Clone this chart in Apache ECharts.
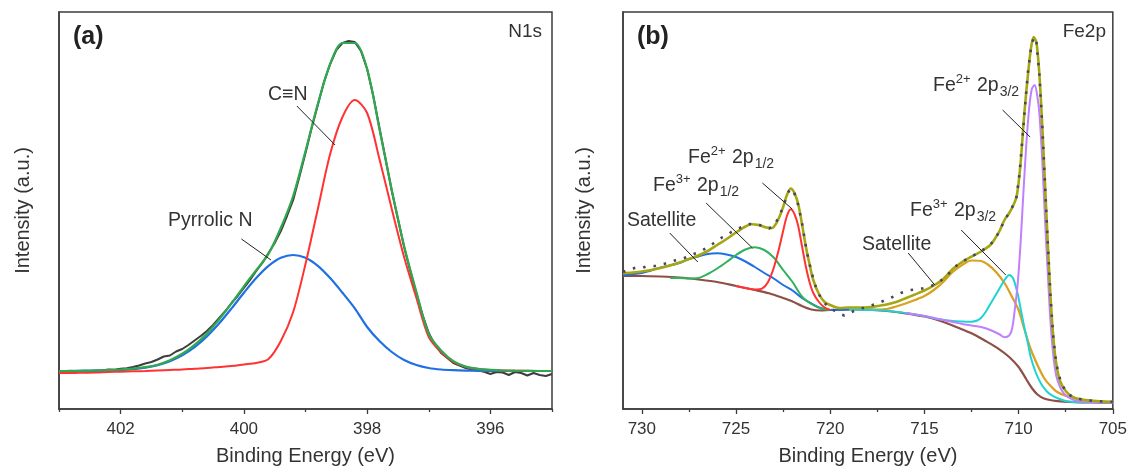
<!DOCTYPE html>
<html>
<head>
<meta charset="utf-8">
<script src="https://cdn.jsdelivr.net/npm/echarts@6/dist/echarts.min.js"></script>
<style>
html,body{margin:0;padding:0;background:#fff;}
#main{width:1130px;height:471px;}
</style>
</head>
<body>
<div id="main"></div>
<script>
// ---- N1s panel (a): binding energy grid for the fitted curves ----
const nX = [403.0,402.8,402.6,402.4,402.2,402.0,401.8,401.6,401.4,401.2,401.0,400.8,400.6,400.4,400.2,400.0,399.8,399.6,399.4,399.2,399.0,398.8,398.6,398.4,398.2,398.0,397.8,397.6,397.4,397.2,397.0,396.8,396.6,396.4,396.2,396.0,395.8,395.6,395.4,395.2,395.0];
const nCN = [36,36,36.3,36.5,37,37.3,37.7,38,38.5,39,39.5,40.3,41,42,43,44.5,46,50,68,97,145,200,255,292,309,296,250,200,152,111,72,57,47,42,40,39,38.5,38.3,38.2,38,38];
const nPyr = [38,38,38.1,38.2,38.5,38.9,39.8,41.3,43.8,47.8,53.7,61.9,72.6,85.7,100.6,116.2,130.9,143.1,151.2,154,151.2,143.1,130.9,116.2,100.6,82,68,57,49,44,41,39.5,38.8,38.4,38.2,38.1,38,38,38,38,38];
const nFit = [38,38,38.2,38.5,39,39.5,40.3,41.8,44.3,48.8,55.2,64.2,75.6,89.7,105.6,122.7,138.9,155.1,181.2,213,258,305,345,366,366,340,280,219,163,117,75,58.5,47.8,42.4,40.2,39.1,38.5,38.3,38.2,38,38];
// raw spectrum
const nRawX = [403.0,402.9,402.8,402.7,402.6,402.5,402.4,402.3,402.2,402.1,402.0,401.9,401.8,401.7,401.6,401.5,401.4,401.3,401.2,401.1,401.0,400.9,400.8,400.7,400.6,400.5,400.4,400.3,400.2,400.1,400.0,399.9,399.8,399.7,399.6,399.5,399.4,399.3,399.2,399.1,399.0,398.9,398.8,398.7,398.6,398.5,398.4,398.3,398.2,398.1,398.0,397.9,397.8,397.7,397.6,397.5,397.4,397.3,397.2,397.1,397.0,396.9,396.8,396.7,396.6,396.5,396.4,396.3,396.2,396.1,396.0,395.9,395.8,395.7,395.6,395.5,395.4,395.3,395.2,395.1,395.0];
const nRaw = [38,38,38.2,37.8,38.3,38.1,38.6,38.4,39.4,39.2,40.2,40.8,42,43.5,45.5,47,49.5,52.5,53.5,57.5,60,64,68.5,73,78,84,91,98,106,113,121,129,138,146,156,166,178,193,209,232,256,281,304,327,345,359,366,368,367,358,340,313,281,250,218,190,162,138,115,94,76,64,56,51,46,43.5,41,39.5,38.5,37.2,35,37,36.5,34,37,36,33.5,36,34,33,35];

// ---- Fe2p panel (b): [binding energy, intensity] ----
const feBg = [[731,133],[730,133],[729,132.5],[728,131.5],[727,129.5],[726,127],[725,123],[724,119],[723.25,115.7],[722.5,111],[722,107.5],[721.5,103],[721,99.5],[720.5,98.5],[720,99],[719,99.5],[718,99.3],[717,98],[716,95.7],[715,92.5],[714.3,89],[713.5,83.5],[712.5,75.7],[711.8,68.5],[711.1,60.7],[710.5,52],[710,42],[709.6,30],[709.3,21],[709,14.5],[708.65,10.5],[708.2,8.5],[707.6,7.3],[707,6.8],[706,6.5],[705,6.3]];
const feSat1 = [[731,134],[730,136],[729,141.5],[728,146],[727.5,150],[727,152.5],[726.5,155],[726,155.7],[725.5,154.5],[725,152],[724.5,147.5],[724,142],[723.5,136],[723,130.5],[722.5,124],[722,118.5],[721.5,111],[721,105.5],[720.5,101],[720,99],[719,99.5]];
const feFe3a = [[728.5,131],[728,131],[727.5,130.5],[727,131],[726.5,135],[726,140.5],[725.5,147],[725,154],[724.5,159.5],[724,161.7],[723.5,159],[723,151.5],[722.5,139],[722,127],[721.5,112.5],[721,105],[720.5,100.5],[720,99]];
const feFe2a = [[725,123],[724.5,121],[724,119.5],[723.6,120.7],[723.3,127],[723,141],[722.75,158],[722.5,178],[722.3,193],[722.1,199.7],[721.9,195],[721.7,183],[721.5,163],[721.3,143],[721.1,127],[720.9,116],[720.6,107],[720.3,101.5],[720,99]];
const feSat2 = [[718,99.3],[717,100],[716.5,102.5],[716,105.5],[715.5,109],[715,113],[714.5,119],[714,127],[713.5,137],[713,144],[712.5,148.5],[712,148],[711.6,144],[711.2,137],[710.75,126],[710.4,114],[710,99],[709.7,80],[709.36,60],[709,44],[708.65,31],[708.3,23],[707.95,17],[707.4,12.5],[706.9,10],[706,8],[705,7.2]];
const feFe3b = [[719,99.5],[717,98.3],[716,96],[715,93],[714.3,90],[713.5,88],[713,87.5],[712.5,87.3],[712.2,88.5],[712,91],[711.75,97],[711.5,105],[711.25,113],[711,121],[710.75,129],[710.5,134],[710.3,131],[710.06,116],[709.9,101],[709.7,82],[709.5,65],[709.36,52],[709.1,37],[708.83,26],[708.5,17.5],[708.12,12.3],[707.6,8.5],[707.25,7.3],[706.5,6.8],[705,6.5]];
const feFe2b = [[716,96],[715,93],[714,89],[713.5,87],[713,85],[712.5,83.5],[712,82],[711.5,79],[711,74.5],[710.75,71.7],[710.5,73.5],[710.35,80],[710.2,100],[710.05,125],[709.9,165],[709.75,215],[709.6,262],[709.45,299],[709.3,320],[709.15,324],[709,312],[708.9,296],[708.75,250],[708.6,190],[708.45,135],[708.3,85],[708.15,52],[708,33],[707.8,22],[707.6,15.7],[707.3,11],[707,8.5],[706.5,7.3],[705,6.6]];
const feFit = [[731,135.7],[730.5,136.5],[730,137.5],[729.5,139],[729,141],[728.5,143.5],[728,146.5],[727.5,150],[727,153.5],[726.5,158],[726,164],[725.5,170],[725,176.5],[724.5,182.5],[724.2,184.7],[723.8,184],[723.4,181.5],[723.1,181],[722.8,188],[722.5,202],[722.3,214],[722.1,220.5],[721.9,216],[721.7,205],[721.5,185],[721.3,163],[721.1,145],[720.9,129],[720.6,115],[720.3,107],[720,104],[719.5,101],[719,101.5],[718.5,101.5],[718,101.7],[717.5,103],[717,104.5],[716.5,107],[716,110.7],[715.5,114.5],[715,118.5],[714.5,123.5],[714,130],[713.5,140],[713,147],[712.5,152.3],[712,157.5],[711.5,164],[711.2,172],[711,178.5],[710.75,189],[710.5,196],[710.3,203],[710.1,213],[709.9,245],[709.7,295],[709.5,335],[709.35,360],[709.2,372],[709.05,366],[708.9,335],[708.75,285],[708.6,225],[708.45,165],[708.3,110],[708.15,70],[708,45],[707.8,28],[707.5,18],[707.2,13],[706.8,10],[706.2,8.5],[705.5,7.5],[705,7.2]];
const feRaw = [[731,137],[730.75,139],[730.5,140.5],[730.25,141.5],[730,141],[729.75,142.5],[729.5,143],[729.25,143],[729,144.5],[728.75,145.5],[728.5,147],[728.25,148.5],[728,149.5],[727.75,151],[727.5,153],[727.25,155],[727,156.5],[726.75,159],[726.5,162],[726.25,165],[726,168],[725.75,171.5],[725.5,173.5],[725.25,177],[725,179],[724.75,181.5],[724.5,183.5],[724.25,185],[724,185],[723.75,184],[723.5,182],[723.25,180.5],[723,183],[722.75,191],[722.5,202],[722.25,216],[722.1,220.5],[721.95,218],[721.75,208],[721.5,186],[721.25,158],[721,137],[720.75,121],[720.5,111],[720.25,105],[720,101],[719.75,98],[719.5,95],[719.25,93.5],[719,95.5],[718.75,98],[718.5,100],[718.25,101],[718,102.5],[717.75,104],[717.5,105.5],[717.25,107.5],[717,109.5],[716.75,111.5],[716.5,113.5],[716.25,116],[716,117.5],[715.75,119],[715.5,119.5],[715.25,120],[715,121],[714.75,122.5],[714.5,124],[714.25,127],[714,130],[713.75,134.5],[713.5,140],[713.25,144],[713,147],[712.75,150],[712.5,152.5],[712.25,155],[712,157.5],[711.75,161],[711.5,164.5],[711.25,170],[711,178.5],[710.75,189],[710.5,196],[710.25,205],[710.1,213],[709.95,236],[709.8,270],[709.65,305],[709.5,338],[709.35,360],[709.2,372],[709.05,366],[708.9,335],[708.75,285],[708.6,225],[708.45,165],[708.3,110],[708.15,70],[708,45],[707.75,26],[707.5,18],[707.25,13.5],[707,11],[706.75,10],[706.5,9],[706.25,8.5],[706,8],[705.5,7.5],[705,7.2]];

// tick values
const nMajor = [396,398,400,402];
const nMinor = [395,397,399,401,403];
const feMajor = [705,710,715,720,725,730];
const feMinor = [707.5,712.5,717.5,722.5,727.5];

const FONT = '"Liberation Sans", Arial, "DejaVu Sans", sans-serif';
const INK = '#333';
const AX = '#3c3c3c';

function xMain(grid, lo, hi, major) {
    return {
        gridIndex: grid, type: 'value', min: lo, max: hi, inverse: true,
        axisLine: {show: true, onZero: false, lineStyle: {color: AX, width: 1.5}},
        axisTick: {show: true, length: 5, customValues: major, lineStyle: {color: AX, width: 1.3}},
        axisLabel: {customValues: major, margin: 12, fontSize: 17, color: INK, fontFamily: FONT},
        splitLine: {show: false},
        name: 'Binding Energy (eV)', nameLocation: 'middle', nameGap: 37,
        nameTextStyle: {fontSize: 20, color: INK, fontFamily: FONT}
    };
}
function xMinor(grid, lo, hi, minor) {
    return {
        gridIndex: grid, type: 'value', min: lo, max: hi, inverse: true, position: 'bottom',
        axisLine: {show: false},
        axisTick: {show: true, length: 3, customValues: minor, lineStyle: {color: AX, width: 1.3}},
        axisLabel: {show: false}, splitLine: {show: false}
    };
}
function yAx(grid, gap) {
    return {
        gridIndex: grid, type: 'value', min: 0, max: 397,
        axisLine: {show: true, lineStyle: {color: AX, width: 1.5}},
        axisTick: {show: false}, axisLabel: {show: false}, splitLine: {show: false},
        name: 'Intensity (a.u.)', nameLocation: 'middle', nameGap: gap,
        nameTextStyle: {fontSize: 20, color: INK, fontFamily: FONT}
    };
}
function line(xi, yi, data, color, width, extra) {
    return Object.assign({
        type: 'line', xAxisIndex: xi, yAxisIndex: yi, data: data, showSymbol: false,
        symbol: 'none', smooth: 0.3, lineStyle: {color: color, width: width}, silent: true
    }, extra || {});
}
function leaders(segs) {
    return {
        silent: true, symbol: ['none', 'none'], label: {show: false},
        lineStyle: {color: '#222', width: 1, type: 'solid'},
        data: segs.map(s => [{coord: [s[0], s[1]]}, {coord: [s[2], s[3]]}])
    };
}

const RICH = {
    b: {fontSize: 19.5, fontFamily: FONT, fill: INK},
    sup: {fontSize: 13, fontFamily: FONT, fill: INK, verticalAlign: 'top', padding: [0, 1, 8, 0]},
    sub: {fontSize: 14, fontFamily: FONT, fill: INK, verticalAlign: 'bottom', padding: [12, 0, 0, 1]}
};
function note(x, y, text, opts) {
    return {
        type: 'text', x: x, y: y, silent: true, z: 100,
        style: Object.assign({
            text: text, fill: INK, font: '19.5px ' + FONT,
            align: 'left', verticalAlign: 'middle', rich: RICH
        }, opts || {})
    };
}

const zip = (xs, ys) => xs.map((x, i) => [x, ys[i]]);

const option = {
    animation: false,
    backgroundColor: '#fff',
    grid: [
        {left: 59, top: 12, width: 493, height: 397, show: true, borderColor: AX, borderWidth: 1.5, backgroundColor: 'transparent'},
        {left: 623, top: 12, width: 493, height: 397, show: true, borderColor: AX, borderWidth: 1.5, backgroundColor: 'transparent'}
    ],
    xAxis: [
        xMain(0, 395, 403, nMajor), xMinor(0, 395, 403, nMinor),
        xMain(1, 705, 731, feMajor), xMinor(1, 705, 731, feMinor)
    ],
    yAxis: [yAx(0, 26), yAx(1, 29)],
    series: [
        // (a) N1s
        line(0, 0, zip(nRawX, nRaw), '#3d3d3d', 2, {smooth: false}),
        line(0, 0, zip(nX, nPyr), '#1f6fe5', 2.2),
        line(0, 0, zip(nX, nCN), '#ff3333', 2),
        line(0, 0, zip(nX, nFit), '#2fa84f', 2.2, {
            markLine: leaders([[399.14, 303, 398.52, 264], [400.04, 170, 399.56, 149]])
        }),
        // (b) Fe2p
        line(2, 1, feBg, '#8e4f48', 2.2),
        line(2, 1, feSat1, '#1f6fe5', 2),
        line(2, 1, feFe3a, '#2fb35a', 2),
        line(2, 1, feFe2a, '#ff3333', 2),
        line(2, 1, feSat2, '#daa01e', 2.2),
        line(2, 1, feFe3b, '#1fd3d3', 2),
        line(2, 1, feFe2b, '#c07fff', 2),
        line(2, 1, feFit, '#a6a612', 2.6, {
            markLine: leaders([
                [723.60, 226, 722.02, 200], [726.59, 206, 724.13, 161],
                [728.52, 176, 727.03, 147], [715.86, 156, 714.45, 124],
                [713.05, 179, 710.68, 134], [710.85, 299, 709.39, 272]
            ])
        }),
        line(2, 1, feRaw, '#454760', 2.6, {smooth: false, lineStyle: {color: '#454760', width: 2.6, type: [2.5, 8]}})
    ],
    graphic: [
        note(73, 37, '(a)', {font: 'bold 25px ' + FONT, fill: '#222'}),
        note(637, 37, '(b)', {font: 'bold 25px ' + FONT, fill: '#222'}),
        note(542, 32, 'N1s', {align: 'right', font: '19px ' + FONT}),
        note(1106, 32, 'Fe2p', {align: 'right', font: '19px ' + FONT}),
        note(268, 95, 'C\u2261N'),
        note(168, 221, 'Pyrrolic N'),
        note(627, 221, 'Satellite'),
        note(862, 245, 'Satellite'),
        note(688, 158, '{b|Fe}{sup|2+}{b| 2p}{sub|1/2}'),
        note(653, 186, '{b|Fe}{sup|3+}{b| 2p}{sub|1/2}'),
        note(910, 211, '{b|Fe}{sup|3+}{b| 2p}{sub|3/2}'),
        note(933, 86, '{b|Fe}{sup|2+}{b| 2p}{sub|3/2}')
    ]
};

const myChart = echarts.init(document.getElementById('main'));
myChart.setOption(option);
</script>
</body>
</html>
